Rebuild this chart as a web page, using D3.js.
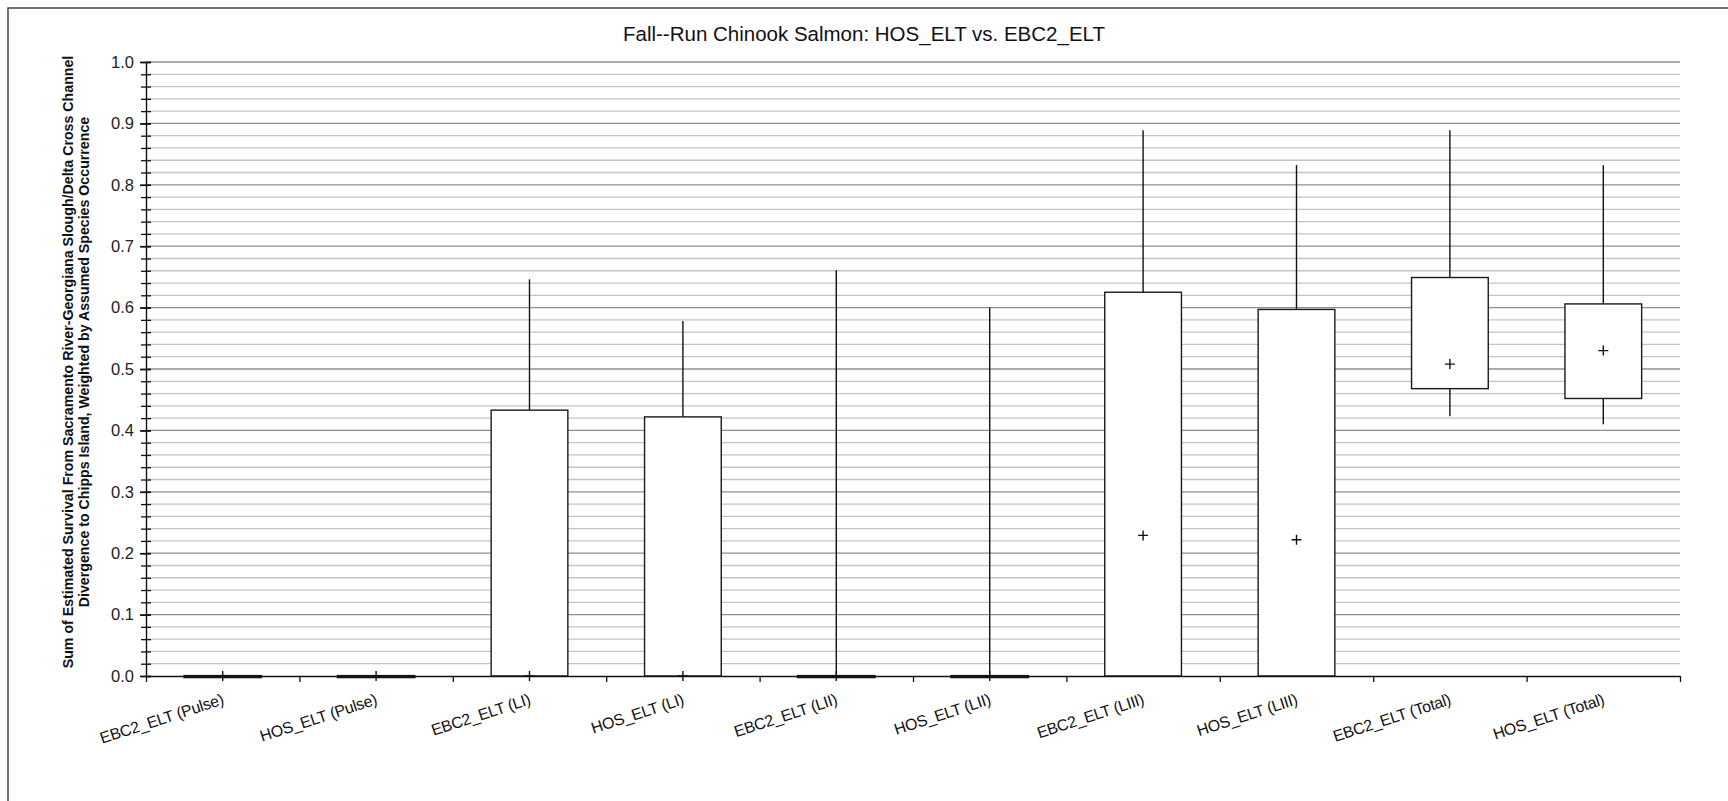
<!DOCTYPE html>
<html>
<head>
<meta charset="utf-8">
<script src="https://cdn.jsdelivr.net/npm/d3@7/dist/d3.min.js"></script>
<style>
  body { margin: 0; background: #fff; }
  svg { display: block; font-family: "Liberation Sans", Arial, sans-serif; }
</style>
</head>
<body>
<svg id="chart" width="1728" height="801"></svg>
<script>
// Box-plot summary per scenario / life stage
const categories = [
  "EBC2_ELT (Pulse)", "HOS_ELT (Pulse)", "EBC2_ELT (LI)", "HOS_ELT (LI)",
  "EBC2_ELT (LII)", "HOS_ELT (LII)", "EBC2_ELT (LIII)", "HOS_ELT (LIII)",
  "EBC2_ELT (Total)", "HOS_ELT (Total)"
];
const whiskerLow  = [0, 0, 0,     0,     0,     0,     0,     0,     0.423, 0.410];
const boxLow      = [0, 0, 0,     0,     0,     0,     0,     0,     0.468, 0.452];
const boxHigh     = [0, 0, 0.433, 0.422, 0,     0,     0.625, 0.597, 0.649, 0.606];
const whiskerHigh = [0, 0, 0.646, 0.578, 0.661, 0.600, 0.889, 0.832, 0.889, 0.832];
const means       = [0, 0, 0,     0,     0,     0,     0.229, 0.222, 0.508, 0.530];

const yMajorTicks = [0, 0.1, 0.2, 0.3, 0.4, 0.5, 0.6, 0.7, 0.8, 0.9, 1.0];
const yMinorStep = 0.02;

const titleText = "Fall--Run Chinook Salmon: HOS_ELT vs. EBC2_ELT";
const yTitleLines = [
  "Sum of Estimated Survival From Sacramento River-Georgiana Slough/Delta Cross Channel",
  "Divergence to Chipps Island, Weighted by Assumed Species Occurrence"
];

const svg = d3.select("#chart");
const plot = { left: 146, right: 1680, top: 62, bottom: 676 };

const x = d3.scaleBand().domain(categories).range([plot.left, plot.right]).padding(0);
const xEdges = d3.scaleLinear().domain([0, categories.length]).range([plot.left, plot.right]);
const y = d3.scaleLinear().domain([0, 1]).range([plot.bottom, plot.top]);

// outer frame
svg.append("rect")
  .attr("x", 8).attr("y", 8).attr("width", 1740).attr("height", 820)
  .attr("fill", "none").attr("stroke", "#3a3a3a").attr("stroke-width", 1.4);

// title
svg.append("text")
  .attr("x", 864).attr("y", 41)
  .attr("text-anchor", "middle").attr("font-size", 20.5).attr("fill", "#111")
  .text(titleText);

// horizontal grid lines every 0.02
const gridVals = d3.range(1, Math.round(1 / yMinorStep) + 1).map(i => +(i * yMinorStep).toFixed(2));
svg.append("g").selectAll("line").data(gridVals).join("line")
  .attr("x1", plot.left).attr("x2", plot.right)
  .attr("y1", d => y(d)).attr("y2", d => y(d))
  .attr("stroke", d => Math.abs(d * 10 - Math.round(d * 10)) < 1e-6 ? "#8f8f8f" : "#c4c4c4")
  .attr("stroke-width", 1.3);

// y axis with crossing ticks
const yAxisMinor = d3.axisLeft(y)
  .tickValues(d3.range(0, Math.round(1 / yMinorStep) + 1).map(i => +(i * yMinorStep).toFixed(2)))
  .tickFormat("").tickSizeOuter(0);
const gyMinor = svg.append("g").attr("transform", `translate(${plot.left},0)`).call(yAxisMinor);
gyMinor.select(".domain").attr("stroke", "#111").attr("stroke-width", 1.4);
gyMinor.selectAll(".tick line").attr("x1", -5).attr("x2", 5).attr("stroke", "#111").attr("stroke-width", 1.3);

const yAxisMajor = d3.axisLeft(y).tickValues(yMajorTicks).tickFormat(d3.format(".1f")).tickSize(0).tickPadding(12);
const gyMajor = svg.append("g").attr("transform", `translate(${plot.left},0)`).call(yAxisMajor);
gyMajor.select(".domain").remove();
gyMajor.selectAll(".tick text").attr("font-size", 16.5).attr("fill", "#222")
  .attr("font-family", "'Liberation Sans', Arial, sans-serif");
// slightly longer ticks at major values
gyMajor.selectAll(".tick").append("line")
  .attr("x1", -6).attr("x2", 5).attr("stroke", "#111").attr("stroke-width", 1.6);

// y axis title (two rotated lines)
const yTitle = svg.append("text")
  .attr("transform", `translate(0,${(plot.top + plot.bottom) / 2 - 7}) rotate(-90)`)
  .attr("text-anchor", "middle").attr("font-size", 14.2).attr("font-weight", "bold").attr("fill", "#111");
yTitle.append("tspan").attr("x", 0).attr("y", 73).text(yTitleLines[0]);
yTitle.append("tspan").attr("x", 0).attr("y", 89).text(yTitleLines[1]);

// box plots
const half = x.bandwidth() * 0.25;
const boxes = svg.append("g").selectAll("g").data(categories).join("g")
  .attr("transform", d => `translate(${x(d) + x.bandwidth() / 2},0)`);

boxes.append("line") // upper whisker
  .attr("x1", 0).attr("x2", 0)
  .attr("y1", (d, i) => y(boxHigh[i])).attr("y2", (d, i) => y(whiskerHigh[i]))
  .attr("stroke", "#111").attr("stroke-width", 1.4);
boxes.append("line") // lower whisker
  .attr("x1", 0).attr("x2", 0)
  .attr("y1", (d, i) => y(whiskerLow[i])).attr("y2", (d, i) => y(boxLow[i]))
  .attr("stroke", "#111").attr("stroke-width", 1.4);
boxes.append("rect")
  .attr("x", -half).attr("width", half * 2)
  .attr("y", (d, i) => y(boxHigh[i]))
  .attr("height", (d, i) => Math.max(1.2, y(boxLow[i]) - y(boxHigh[i])))
  .attr("fill", "#fff").attr("stroke", "#1a1a1a")
  .attr("stroke-width", (d, i) => boxHigh[i] === boxLow[i] ? 2.2 : 1.4);

// x axis line and category-boundary ticks
const xAxis = d3.axisBottom(xEdges).tickValues(d3.range(0, categories.length + 1))
  .tickFormat("").tickSize(6).tickSizeOuter(0);
const gx = svg.append("g").attr("transform", `translate(0,${plot.bottom})`).call(xAxis);
gx.select(".domain").attr("stroke", "#111").attr("stroke-width", 1.4);
gx.selectAll(".tick line").attr("stroke", "#111").attr("stroke-width", 1.3);

// mean markers
boxes.append("path")
  .attr("d", (d, i) => `M-5,${y(means[i])}H5M0,${y(means[i]) - 5}V${y(means[i]) + 5}`)
  .attr("stroke", "#111").attr("stroke-width", 1.4).attr("fill", "none");

// rotated category labels
svg.append("g").selectAll("text").data(categories).join("text")
  .attr("transform", d => `translate(${x(d) + x.bandwidth() / 2 + 2},704) rotate(-18)`)
  .attr("text-anchor", "end").attr("font-size", 16).attr("fill", "#111")
  .attr("letter-spacing", "-0.3")
  .text(d => d);
</script>
</body>
</html>
